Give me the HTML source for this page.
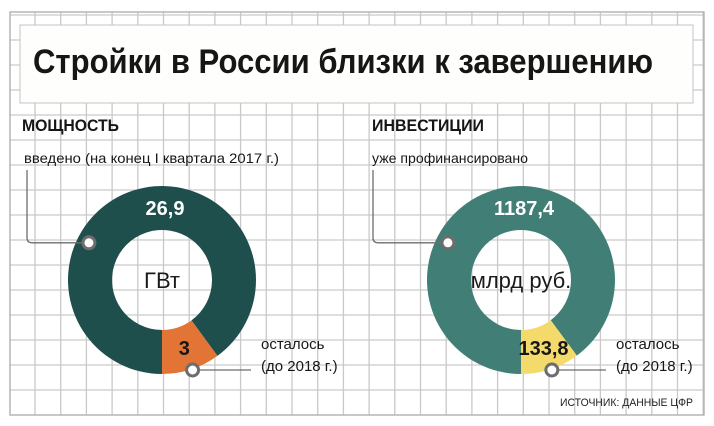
<!DOCTYPE html>
<html><head><meta charset="utf-8"><style>
html,body{margin:0;padding:0;background:#fff;width:714px;height:426px;overflow:hidden}
svg{display:block;font-family:"Liberation Sans Narrow","Liberation Sans",sans-serif}
</style></head><body>
<svg id="c" width="714" height="426" viewBox="0 0 714 426">
<g id="grid"></g>
<rect x="20" y="25" width="673" height="78" fill="#fefefc" stroke="#c4c4c4" stroke-width="1"/>
<text x="33" y="73" font-family="Liberation Sans" font-weight="bold" font-size="34" textLength="620" lengthAdjust="spacingAndGlyphs" fill="#161616">Стройки в России близки к завершению</text>
<text x="22" y="131" font-weight="bold" font-size="17" textLength="97" lengthAdjust="spacingAndGlyphs" fill="#161616">МОЩНОСТЬ</text>
<text x="24" y="163" font-size="14" textLength="255" lengthAdjust="spacingAndGlyphs" fill="#161616">введено (на конец I квартала 2017 г.)</text>
<text x="372" y="131" font-weight="bold" font-size="17" textLength="112" lengthAdjust="spacingAndGlyphs" fill="#161616">ИНВЕСТИЦИИ</text>
<text x="372" y="163" font-size="14" textLength="156" lengthAdjust="spacingAndGlyphs" fill="#161616">уже профинансировано</text>
<g id="donuts"></g>
<text x="560" y="406" font-size="11" textLength="133" lengthAdjust="spacingAndGlyphs" fill="#222">ИСТОЧНИК: ДАННЫЕ ЦФР</text>
</svg>
<script>
const categories = ["введено", "осталось"];
const powerValues = [26.9, 3];
const investValues = [1187.4, 133.8];
const powerLabels = ["26,9", "3"];
const investLabels = ["1187,4", "133,8"];
const NS = "http://www.w3.org/2000/svg";
function mk(tag, attrs, parent) {
  const e = document.createElementNS(NS, tag);
  for (const k in attrs) e.setAttribute(k, attrs[k]);
  parent.appendChild(e);
  return e;
}
// grid
const g = document.getElementById("grid");
for (let x = 35; x < 704; x += 25.7) {
  const l = mk("line", {x1: x, y1: 12, x2: x, y2: 415, stroke: "#c9c9c9", "stroke-width": 1.3}, g);
  
  
}
for (let y = 15; y < 415; y += 25) {
  const l = mk("line", {x1: 10, y1: y, x2: 704, y2: y, stroke: "#c9c9c9", "stroke-width": 1.3}, g);
  
  
}
const br = mk("rect", {x: 10, y: 12, width: 694, height: 403, fill: "none", stroke: "#ababab", "stroke-width": 1.3}, g);



const D = document.getElementById("donuts");
function pt(cx, cy, r, a) { return [cx + r * Math.sin(a), cy - r * Math.cos(a)]; }
function arc(cx, cy, R, r, a0, a1) {
  const large = (a1 - a0) > Math.PI ? 1 : 0;
  const [x0, y0] = pt(cx, cy, R, a0), [x1, y1] = pt(cx, cy, R, a1);
  const [x2, y2] = pt(cx, cy, r, a1), [x3, y3] = pt(cx, cy, r, a0);
  return `M${x0},${y0}A${R},${R} 0 ${large} 1 ${x1},${y1}L${x2},${y2}A${r},${r} 0 ${large} 0 ${x3},${y3}Z`;
}
function donut(cx, vals, labels, colors, unit, name, doneLeft, restRight) {
  const cy = 280, R = 94, r = 50;
  const total = vals[0] + vals[1];
  const restAng = vals[1] / total * 2 * Math.PI;
  // "осталось" slice ends at 6 o'clock, goes counter-clockwise
  const s1 = Math.PI - restAng, e1 = Math.PI;
  const p0 = mk("path", {d: arc(cx, cy, R, r, e1, s1 + 2 * Math.PI), fill: colors[0]}, D);
  
  
  const p1 = mk("path", {d: arc(cx, cy, R, r, s1, e1), fill: colors[1]}, D);
  
  
  const u = mk("text", {x: cx, y: cy + 8, "text-anchor": "middle", "font-size": 22, fill: "#1a1a1a"}, D);
  u.textContent = unit;
  
  
  const v0 = mk("text", {x: cx + 3, y: 215, "text-anchor": "middle", "font-family": "Liberation Sans", "font-weight": "bold", "font-size": 20, fill: "#fff"}, D);
  v0.textContent = labels[0];
  
  
  const midA = Math.PI - restAng / 2;
  const [mx] = pt(cx, cy, 72, midA);
  const v1 = mk("text", {x: mx, y: 355, "text-anchor": "middle", "font-family": "Liberation Sans", "font-weight": "bold", "font-size": 20, fill: "#161616"}, D);
  v1.textContent = labels[1];
  
  
  // callouts
  const [tx, ty] = pt(cx, cy, 82, -1.1);
  const l0 = mk("path", {d: `M${tx},${ty}H${doneLeft + 5}Q${doneLeft},${ty} ${doneLeft},${ty - 5}V170`, fill: "none", stroke: "#6d6d6d", "stroke-width": 1.3}, D);
  
  
  const c0 = mk("circle", {cx: tx, cy: ty, r: 6, fill: "#fff", stroke: "#6d6d6d", "stroke-width": 3}, D);
  
  
  const [bx, by] = pt(cx, cy, 90, Math.PI - restAng * 0.55);
  const l1 = mk("line", {x1: bx, y1: 370, x2: restRight, y2: 370, stroke: "#6d6d6d", "stroke-width": 1.3}, D);
  
  
  const c1 = mk("circle", {cx: bx, cy: 370, r: 6, fill: "#fff", stroke: "#6d6d6d", "stroke-width": 3}, D);
  
  
  const t1 = mk("text", {x: restRight + 10, y: 349, "font-size": 15, fill: "#161616"}, D);
  t1.textContent = "осталось";
  
  
  const t2 = mk("text", {x: restRight + 10, y: 371, "font-size": 15, fill: "#161616"}, D);
  t2.textContent = "(до 2018 г.)";
  
  
}
donut(162, powerValues, powerLabels, ["#1f4f4c", "#e27435"], "ГВт", "power", 27, 251);
donut(521, investValues, investLabels, ["#417f76", "#f4da6a"], "млрд руб.", "invest", 373, 606);
</script>
</body></html>
